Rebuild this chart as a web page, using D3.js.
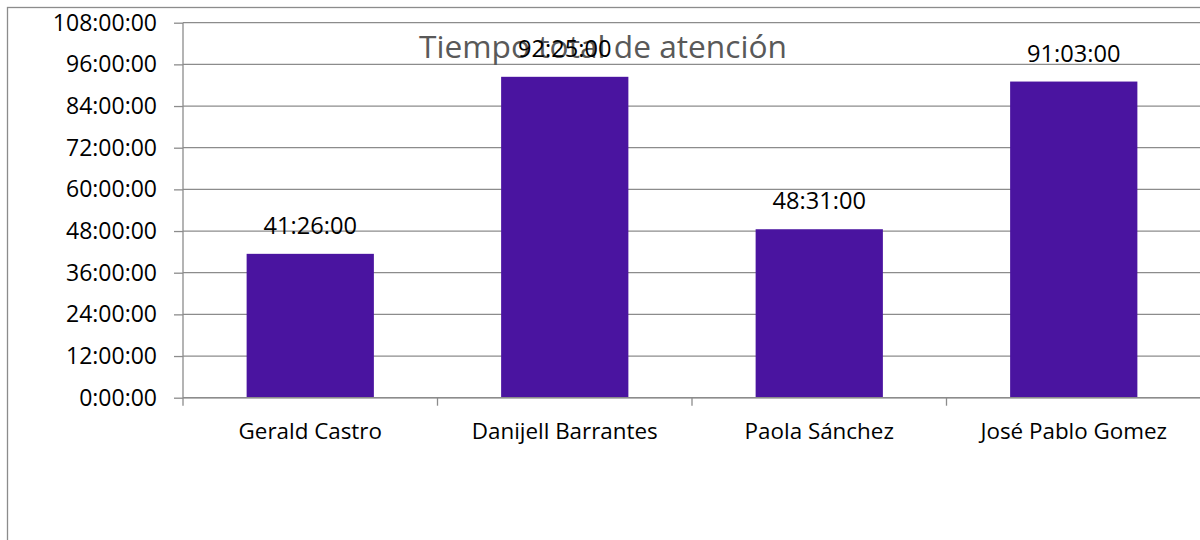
<!DOCTYPE html>
<html>
<head>
<meta charset="utf-8">
<script src="https://cdn.jsdelivr.net/npm/d3@7"></script>
<style>
  html, body { margin: 0; padding: 0; background: #fff; }
  svg { display: block; }
  text { font-family: "Open Sans", sans-serif; }
</style>
</head>
<body>
<svg id="chart" width="1200" height="540"></svg>
<script>
const categories = ["Gerald Castro", "Danijell Barrantes", "Paola Sánchez", "José Pablo Gomez"];
const hoursValues = [41 + 26/60, 92 + 25/60, 48 + 31/60, 91 + 3/60];
const valueLabels = ["41:26:00", "92:25:00", "48:31:00", "91:03:00"];
const tickValues = [0, 12, 24, 36, 48, 60, 72, 84, 96, 108];
const tickLabels = ["0:00:00", "12:00:00", "24:00:00", "36:00:00", "48:00:00", "60:00:00", "72:00:00", "84:00:00", "96:00:00", "108:00:00"];
const title = "Tiempo total de atención";

(function () {
const svg = d3.select("#chart");
const pLeft = 183, pRight = 1201, pTop = 22.7, pBottom = 397.7;
const gridColor = "#8c8c8c";

// outer chart border
svg.append("rect")
  .attr("x", 7.5).attr("y", 7.5)
  .attr("width", 1200).attr("height", 600)
  .attr("fill", "none").attr("stroke", "#8c8c8c").attr("stroke-width", 1.3);

const x = d3.scaleBand().domain(categories).range([pLeft, pRight]).paddingInner(0.5).paddingOuter(0.25);
const xb = d3.scaleBand().domain(categories).range([pLeft, pRight]).padding(0);
const y = d3.scaleLinear().domain([0, 108]).range([pBottom, pTop]);

// gridlines
svg.append("g").selectAll("line").data(tickValues).join("line")
  .attr("x1", pLeft).attr("x2", pRight)
  .attr("y1", d => y(d)).attr("y2", d => y(d))
  .attr("stroke", gridColor).attr("stroke-width", 1.3);

// y axis
const yAxis = d3.axisLeft(y).tickValues(tickValues).tickSize(9).tickPadding(17)
  .tickFormat((d, i) => tickLabels[i]);
const yg = svg.append("g").attr("transform", `translate(${pLeft},0)`).call(yAxis);
yg.select(".domain").remove();
yg.selectAll(".tick line").attr("stroke", gridColor).attr("stroke-width", 1.3);
yg.selectAll(".tick text").attr("font-size", 23).attr("fill", "#000")
  .attr("font-family", "'Open Sans', sans-serif");
svg.append("line").attr("x1", pLeft).attr("x2", pLeft).attr("y1", pTop).attr("y2", pBottom + 8)
  .attr("stroke", gridColor).attr("stroke-width", 1.3);

// bars
svg.append("g").selectAll("rect").data(categories).join("rect")
  .attr("x", d => x(d)).attr("width", x.bandwidth())
  .attr("y", (d, i) => y(hoursValues[i]))
  .attr("height", (d, i) => y(0) - y(hoursValues[i]))
  .attr("fill", "#4a14a0");

// x axis line and category separators
svg.append("line").attr("x1", pLeft).attr("x2", pRight).attr("y1", pBottom).attr("y2", pBottom)
  .attr("stroke", gridColor).attr("stroke-width", 1.6);
svg.append("g").selectAll("line").data(categories.slice(1)).join("line")
  .attr("x1", d => xb(d)).attr("x2", d => xb(d))
  .attr("y1", pBottom).attr("y2", pBottom + 8)
  .attr("stroke", gridColor).attr("stroke-width", 1.3);

// category labels
svg.append("g").selectAll("text").data(categories).join("text")
  .attr("x", d => xb(d) + xb.bandwidth() / 2).attr("y", 439)
  .attr("text-anchor", "middle").attr("font-size", 22.4).attr("fill", "#000")
  .text(d => d);

// title
svg.append("text").attr("x", 603).attr("y", 58)
  .attr("text-anchor", "middle").attr("font-size", 31.7).attr("fill", "#595959")
  .text(title);

// value labels
svg.append("g").selectAll("text").data(categories).join("text")
  .attr("x", d => x(d) + x.bandwidth() / 2)
  .attr("y", (d, i) => y(hoursValues[i]) - 20)
  .attr("text-anchor", "middle").attr("font-size", 23.6).attr("fill", "#000")
  .text((d, i) => valueLabels[i]);
})();
</script>
</body>
</html>
